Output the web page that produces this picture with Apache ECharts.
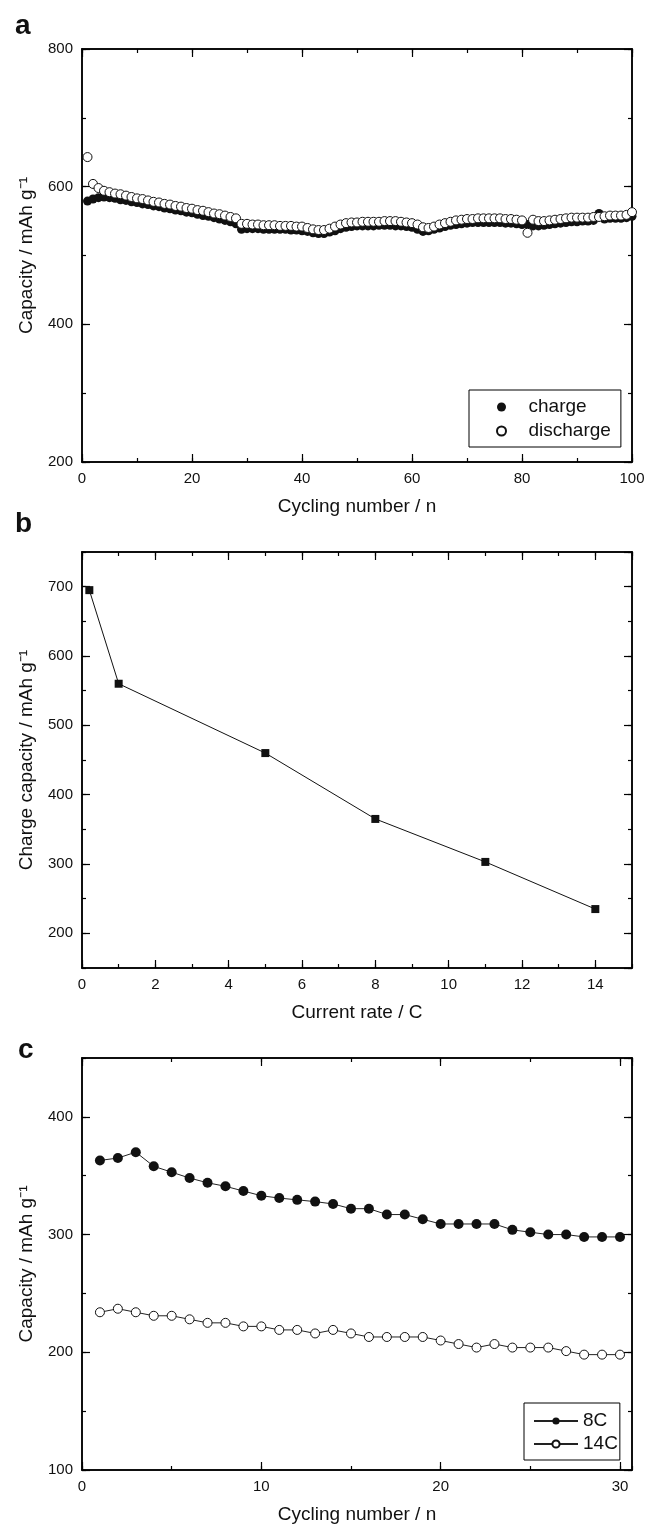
<!DOCTYPE html>
<html>
<head>
<meta charset="utf-8">
<script src="https://cdn.jsdelivr.net/npm/echarts@6/dist/echarts.min.js"></script>
<style>
  html, body { margin: 0; padding: 0; background: #fff; }
  #chart { width: 648px; height: 1525px; }
</style>
</head>
<body>
<div id="chart"></div>
<script>
// a: cycling, charge / discharge (cycle n = index + 1)
var chargeA = [579,582,584,585,584,583,581,580,578,577,575,574,572,571,569,568,566,565,563,562,
               560,558,557,555,553,551,549,546,538,539,539,539,538,538,538,538,538,537,537,536,
               535,533,532,532,534,536,539,541,542,543,543,543,543,544,544,544,543,543,542,541,
               538,535,536,538,540,542,544,545,546,547,548,548,548,548,548,548,547,547,546,545,
               545,543,543,544,545,546,547,548,549,549,550,550,551,561,553,554,554,554,555,557];
var dischargeA = [643,604,598,594,592,590,589,587,585,583,582,580,578,577,575,574,572,571,569,568,
                  566,565,563,561,560,558,556,554,546,546,545,545,544,544,544,543,543,543,542,542,
                  540,538,537,537,539,542,545,547,548,548,549,549,549,549,550,550,550,549,548,547,
                  545,541,540,542,545,547,549,551,552,553,553,554,554,554,554,554,553,553,552,551,
                  533,552,550,550,551,552,553,554,555,555,555,555,556,556,557,558,558,558,559,563];

// b: rate capability
var rateB = [0.2, 1, 5, 8, 11, 14];
var capB = [695, 560, 460, 365, 303, 235];

// c: cycling at 8C and 14C (cycle n = index + 1)
var cap8C = [363,365,370,358,353,348,344,341,337,333,331,329.5,328,326,322,322,317,317,313,309,
             309,309,309,304,302,300,300,298,298,298];
var cap14C = [234,237,234,231,231,228,225,225,222,222,219,219,216,219,216,213,213,213,213,210,
              207,204,207,204,204,204,201,198,198,198];

function pairs(vals) {
    return vals.map(function (v, i) { return [i + 1, v]; });
}

var FONT = 'Liberation Sans, Arial, Helvetica, sans-serif';

function axis(pos, grid, min, max, step, tickLen, extra) {
    var a = {
        type: 'value', gridIndex: grid, position: pos, min: min, max: max,
        axisLine: { show: true, onZero: false, lineStyle: { color: '#000', width: 1.5 } },
        axisTick: { show: true, inside: true, length: tickLen, lineStyle: { color: '#000', width: 1.2 } },
        axisLabel: { show: false },
        splitLine: { show: false },
        minorTick: { show: false }
    };
    if (step) a.interval = step;
    for (var k in extra) a[k] = extra[k];
    return a;
}

function label(showMin, showMax) {
    return { show: true, color: '#111', fontSize: 15, fontFamily: FONT, margin: 9,
             showMinLabel: showMin, showMaxLabel: showMax };
}

function nameStyle() {
    return { color: '#111', fontSize: 19, fontFamily: FONT };
}

// each grid: 4 x axes (bottom major/minor, top major/minor), 4 y axes (left, right)
var xAxes = [], yAxes = [];
function frame(grid, xr, yr, xName, yName) {
    xAxes.push(axis('bottom', grid, xr.min, xr.max, xr.major, 8, {
        axisLabel: label(true, xr.showMax), name: xName, nameLocation: 'middle', nameGap: 35,
        nameTextStyle: nameStyle() }));
    xAxes.push(axis('bottom', grid, xr.min, xr.max, xr.minor, 4, {}));
    xAxes.push(axis('top', grid, xr.min, xr.max, xr.major, 8, {}));
    xAxes.push(axis('top', grid, xr.min, xr.max, xr.minor, 4, {}));
    var yMajor = yr.major ? {} : { splitNumber: yr.split, minInterval: yr.step, maxInterval: yr.step };
    var left = axis('left', grid, yr.min, yr.max, yr.major, 8, {
        axisLabel: label(yr.showMin, yr.showMax), name: yName, nameLocation: 'middle', nameGap: 46,
        nameTextStyle: nameStyle() });
    var right = axis('right', grid, yr.min, yr.max, yr.major, 8, {});
    for (var k in yMajor) { left[k] = yMajor[k]; right[k] = yMajor[k]; }
    yAxes.push(left);
    yAxes.push(axis('left', grid, yr.min, yr.max, yr.minor, 4, {}));
    yAxes.push(right);
    yAxes.push(axis('right', grid, yr.min, yr.max, yr.minor, 4, {}));
}

frame(0, { min: 0, max: 100, major: 20, minor: 10, showMax: true },
         { min: 200, max: 800, major: 200, minor: 100, showMin: true, showMax: true },
         'Cycling number / n', 'Capacity / mAh g\u207B\u00B9');
frame(1, { min: 0, max: 15, major: 2, minor: 1, showMax: false },
         { min: 150, max: 750, major: null, split: 6, step: 100, minor: 50, showMin: false, showMax: false },
         'Current rate / C', 'Charge capacity / mAh g\u207B\u00B9');
frame(2, { min: 0, max: 30.67, major: 10, minor: 5, showMax: false },
         { min: 100, max: 450, major: 100, minor: 50, showMin: true, showMax: false },
         'Cycling number / n', 'Capacity / mAh g\u207B\u00B9');

var myChart = echarts.init(document.getElementById('chart'), null, { renderer: 'canvas' });
var option = {
    backgroundColor: '#fff',
    animation: false,
    textStyle: { fontFamily: FONT },
    grid: [
        { left: 82, top: 49, width: 550, height: 413 },
        { left: 82, top: 552, width: 550, height: 416 },
        { left: 82, top: 1058, width: 550, height: 412 }
    ],
    xAxis: xAxes,
    yAxis: yAxes,
    graphic: [
        { type: 'text', left: 15, top: 12, style: { text: 'a', font: 'bold 28px ' + FONT, fill: '#111' } },
        { type: 'text', left: 15, top: 510, style: { text: 'b', font: 'bold 28px ' + FONT, fill: '#111' } },
        { type: 'text', left: 18, top: 1036, style: { text: 'c', font: 'bold 28px ' + FONT, fill: '#111' } }
    ],
    legend: [
        {
            data: ['charge', 'discharge'], orient: 'vertical', left: 469, top: 390,
            padding: [7, 10, 6, 27], itemWidth: 44, itemHeight: 9, itemGap: 4,
            borderColor: '#000', borderWidth: 1, borderRadius: 0,
            textStyle: { color: '#111', fontSize: 19, fontFamily: FONT, lineHeight: 20 }
        },
        {
            data: ['8C', '14C'], orient: 'vertical', left: 524, top: 1403,
            padding: [8, 2, 6, 9], itemWidth: 44, itemHeight: 9, itemGap: 3,
            borderColor: '#000', borderWidth: 1, borderRadius: 0,
            textStyle: { color: '#111', fontSize: 19, fontFamily: FONT, lineHeight: 20 }
        }
    ],
    series: [
        {
            name: 'charge', type: 'scatter', xAxisIndex: 0, yAxisIndex: 0,
            symbol: 'circle', symbolSize: 9, z: 2,
            itemStyle: { color: '#111', opacity: 1 },
            data: pairs(chargeA)
        },
        {
            name: 'discharge', type: 'scatter', xAxisIndex: 0, yAxisIndex: 0,
            symbol: 'circle', symbolSize: 9, z: 3,
            itemStyle: { color: '#fff', borderColor: '#111', borderWidth: 1, opacity: 1 },
            data: pairs(dischargeA)
        },
        {
            name: 'rate', type: 'line', xAxisIndex: 4, yAxisIndex: 4,
            symbol: 'rect', symbolSize: 8,
            lineStyle: { color: '#111', width: 1 },
            itemStyle: { color: '#111' },
            data: rateB.map(function (r, i) { return [r, capB[i]]; })
        },
        {
            name: '8C', type: 'line', xAxisIndex: 8, yAxisIndex: 8,
            symbol: 'circle', symbolSize: 10, z: 3,
            lineStyle: { color: '#222', width: 1 },
            itemStyle: { color: '#111' },
            data: pairs(cap8C)
        },
        {
            name: '14C', type: 'line', xAxisIndex: 8, yAxisIndex: 8,
            symbol: 'circle', symbolSize: 9, z: 3,
            lineStyle: { color: '#222', width: 1 },
            itemStyle: { color: '#fff', borderColor: '#111', borderWidth: 1 },
            data: pairs(cap14C)
        }
    ]
};
myChart.setOption(option, true);
</script>
</body>
</html>
